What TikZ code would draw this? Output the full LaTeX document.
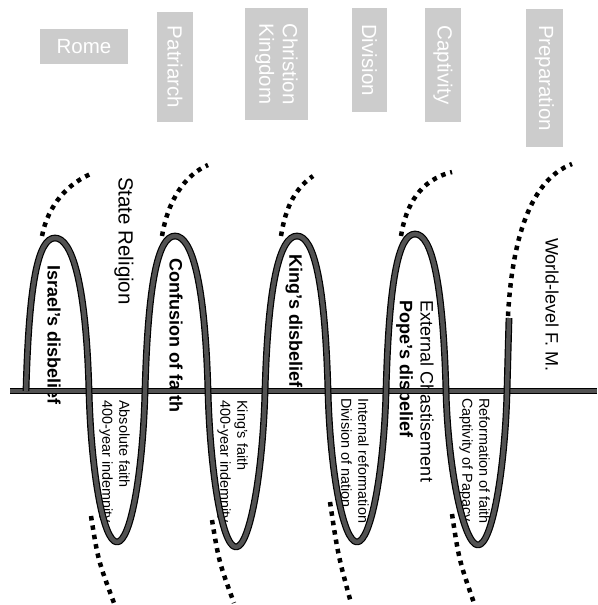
\documentclass[tikz,border=0pt]{standalone}
\usepackage{fontspec}
\setmainfont{Liberation Sans}

\tikzset{
    era/.style={fill=black!20,text=white,inner sep=0pt,align=center,font=\fontsize{20.5}{23.5}\selectfont},
    side/.style={rotate=-90,inner sep=0pt,font=\fontsize{18}{21}\selectfont},
    note/.style={rotate=-90,inner sep=0pt,align=left,anchor=north west,font=\fontsize{14.4}{17}\selectfont},
    coil/.style={line width=1.2pt,draw=black,double=black!68,double distance=4.4pt,line join=round},
    axis/.style={line width=1pt,draw=black,double=black!68,double distance=3.6pt},
    back/.style={line width=4.5pt,dash pattern=on 4.5pt off 5pt}
}

\begin{document}
\begin{tikzpicture}[x=1pt,y=-1pt]
    \useasboundingbox (0,0) rectangle (597,605);

    % eras
    \node[era,minimum width=88pt,minimum height=35pt] (rome) at (84,46.5) {Rome};
    \node[era,rotate=-90,minimum width=110pt,minimum height=36pt] (patriarch) at (175,67) {Patriarch};
    \node[era,rotate=-90,minimum width=112pt,minimum height=63pt] (kingdom) at (276.5,64) {Christion\\Kingdom};
    \node[era,rotate=-90,minimum width=104pt,minimum height=35pt] (division) at (369.5,60) {Division};
    \node[era,rotate=-90,minimum width=114pt,minimum height=36pt] (captivity) at (443,65) {Captivity};
    \node[era,rotate=-90,minimum width=138pt,minimum height=37pt] (preparation) at (544.5,78) {Preparation};

    % labels above the line
    \node[side,font=\fontsize{20.5}{23}\selectfont] (religion) at (124,241) {State Religion};
    \node[side,font=\bfseries\fontsize{18}{21}\selectfont] (israel) at (54,335) {Israel's disbelief};
    \node[side,font=\bfseries\fontsize{18}{21}\selectfont] (confusion) at (176,335.5) {Confusion of faith};
    \node[side,font=\bfseries\fontsize{18}{21}\selectfont] (kings) at (294,321) {King's disbelief};
    \node[side] (external) at (427,391.5) {External Chastisement};
    \node[side,font=\bfseries\fontsize{18}{21}\selectfont] (pope) at (404.5,369) {Pope's disbelief};
    \node[side] (world) at (552,305) {World-level F. M.};

    % notes below the line
    \node[note] (absolute) at (130,400) {Absolute faith\\400-year indemnity};
    \node[note] (kingfaith) at (248,400) {King's faith\\400-year indemnity};
    \node[note] (internal) at (369,398) {Internal reformation\\Division of nation};
    \node[note] (reform) at (490,398) {Reformation of faith\\Captivity of Papacy};

    \coordinate (axisW) at (10,391);
    \coordinate (axisE) at (597,391);
    \draw[axis] (axisW) -- (axisE);

    % hidden side of the coil
    \draw[back] (42,236) .. controls (48,205) and (68,183) .. (93,173);
    \draw[back] (162,236) .. controls (168,200) and (185,175) .. (208,165);
    \draw[back] (281,236) .. controls (286,205) and (296,188) .. (313,176);
    \draw[back] (401,236) .. controls (406,205) and (420,180) .. (452,172);
    \draw[back] (508,316) .. controls (512,240) and (530,180) .. (572,164);
    \draw[back] (91,516) .. controls (98,560) .. (114,603);
    \draw[back] (212,520) .. controls (219,562) .. (234,603);
    \draw[back] (330,502) .. controls (338,555) .. (351,603);
    \draw[back] (452,514) .. controls (459,560) .. (474,603);

    % coil
    \draw[coil] (26,391) .. controls (29,283) and (38,238) .. (55,238)
        .. controls (72,238) and (86,283) .. (89,391)
        .. controls (91,470) and (103,542) .. (117,542)
        .. controls (131,542) and (143,470) .. (145,391)
        .. controls (148,283) and (158,236) .. (175,236)
        .. controls (192,236) and (205,283) .. (208,391)
        .. controls (210,470) and (222,547) .. (236,547)
        .. controls (250,547) and (263,470) .. (265,391)
        .. controls (268,283) and (280,236) .. (297,236)
        .. controls (314,236) and (325,283) .. (328,391)
        .. controls (330,470) and (343,542) .. (357,542)
        .. controls (371,542) and (384,470) .. (386,391)
        .. controls (389,283) and (398,234) .. (415,234)
        .. controls (432,234) and (443,283) .. (446,391)
        .. controls (448,470) and (464,545) .. (478,545)
        .. controls (492,545) and (505,470) .. (507,391)
        -- (509,318);
\end{tikzpicture}
\end{document}
